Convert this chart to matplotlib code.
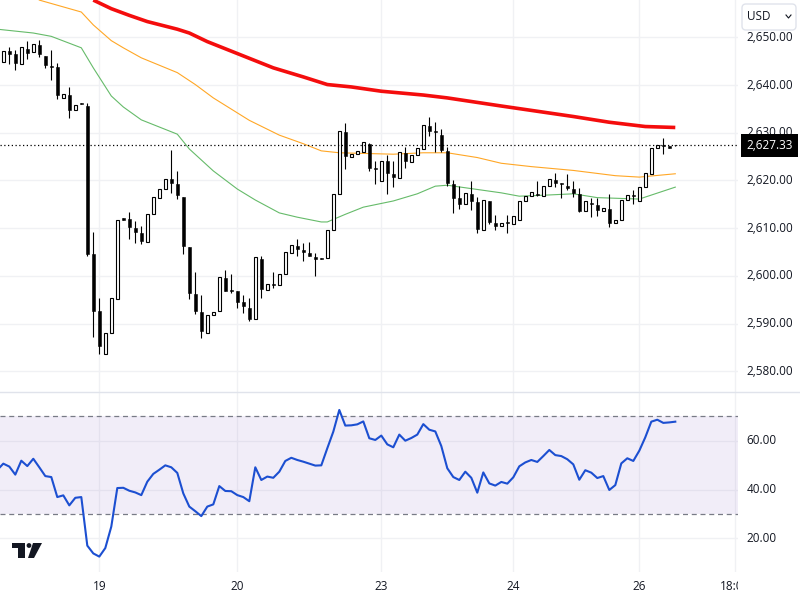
import matplotlib
matplotlib.use('Agg')
import matplotlib.pyplot as plt
from matplotlib.patches import Polygon, Circle, Rectangle, FancyBboxPatch
from matplotlib.lines import Line2D
from matplotlib.transforms import IdentityTransform, ScaledTranslation

plt.rcParams['font.family'] = ['Open Sans', 'DejaVu Sans']

opens = [2644.9,2647.1,2646.4,2644.5,2647.5,2646.9,2648.3,2646.1,2644.0,2643.8,2637.3,2637.9,2634.7,2636.2,2635.7,2604.6,2592.6,2583.6,2588.0,2595.1,
         2612.1,2611.9,2610.0,2609.0,2607.2,2612.9,2616.4,2618.3,2620.3,2619.3,2616.5,2606.0,2596.2,2592.4,2588.1,2591.7,2592.7,2599.5,2597.0,2596.8,
         2594.5,2593.2,2590.9,2603.5,2597.0,2598.3,2598.0,2600.3,2604.7,2606.3,2605.4,2604.8,2604.0,2603.7,2603.7,2609.6,2617.1,2630.1,2625.0,2625.5,
         2626.0,2627.6,2622.6,2619.9,2624.0,2621.3,2620.6,2625.7,2623.9,2625.4,2626.6,2631.4,2630.4,2629.5,2626.1,2619.2,2616.3,2615.0,2617.2,2615.5,
         2609.6,2615.7,2611.1,2610.4,2611.1,2610.9,2611.7,2615.6,2616.7,2617.0,2616.8,2618.8,2620.1,2619.3,2618.8,2618.2,2617.2,2613.7,2615.3,2614.8,
         2613.7,2614.0,2611.0,2611.7,2615.8,2617.0,2615.6,2618.6,2621.4,2626.7,2627.4,2627.2,2627.4]
highs = [2647.2,2648.0,2647.3,2647.9,2649.2,2648.5,2649.4,2646.1,2647.3,2644.6,2638.1,2639.6,2635.9,2636.2,2636.2,2609.2,2595.3,2588.0,2595.3,2611.8,
         2612.1,2613.4,2611.5,2610.5,2612.9,2616.5,2618.3,2620.4,2626.4,2622.0,2616.5,2606.0,2600.8,2596.0,2591.7,2592.5,2599.7,2601.2,2600.4,2596.8,
         2596.0,2595.4,2603.9,2604.2,2598.4,2600.9,2600.3,2604.9,2606.4,2607.7,2606.8,2607.1,2604.7,2603.7,2609.6,2617.1,2630.3,2632.0,2625.5,2626.1,
         2628.0,2627.8,2624.1,2624.0,2625.3,2624.1,2625.9,2627.0,2625.3,2626.7,2631.6,2633.2,2632.2,2630.8,2627.1,2620.1,2618.8,2617.4,2619.9,2616.5,
         2615.8,2615.7,2612.8,2611.1,2612.8,2612.5,2615.6,2616.7,2617.5,2619.9,2618.8,2620.2,2621.6,2619.5,2621.3,2619.9,2618.4,2615.6,2616.3,2616.3,
         2614.2,2617.1,2611.8,2615.8,2616.9,2618.1,2618.6,2621.5,2626.7,2627.4,2629.0,2627.2,2627.4]
lows = [2644.9,2644.5,2643.2,2644.5,2645.5,2646.9,2645.9,2643.6,2641.1,2637.1,2637.3,2633.1,2634.7,2636.1,2604.2,2587.2,2583.7,2583.6,2588.0,2595.1,
        2611.7,2607.8,2606.9,2606.7,2607.2,2612.9,2616.4,2618.3,2617.4,2616.1,2604.5,2595.2,2592.0,2587.0,2588.1,2591.7,2592.7,2596.9,2596.5,2593.3,
        2592.3,2590.6,2590.9,2595.4,2597.0,2597.5,2598.0,2600.3,2604.7,2604.2,2603.2,2604.2,2600.0,2603.6,2603.7,2609.6,2617.1,2622.4,2625.0,2625.5,
        2626.0,2622.0,2619.3,2619.9,2617.2,2618.6,2620.6,2622.6,2623.9,2625.4,2626.6,2629.4,2625.9,2625.9,2618.8,2613.2,2614.1,2615.0,2613.8,2609.0,
        2609.6,2610.9,2609.6,2610.4,2609.0,2610.9,2611.7,2615.6,2616.7,2616.7,2616.8,2618.8,2618.6,2616.4,2618.1,2616.5,2613.4,2613.7,2612.3,2612.5,
        2613.7,2610.2,2611.0,2611.7,2615.8,2615.0,2615.6,2618.6,2621.4,2626.7,2625.5,2626.8,2627.3]
closes = [2647.2,2646.6,2644.7,2647.9,2646.8,2648.5,2646.4,2644.2,2643.8,2638.0,2638.1,2634.8,2635.9,2636.1,2604.6,2592.7,2585.3,2588.0,2595.3,2611.8,
          2611.7,2610.3,2609.2,2607.4,2612.9,2616.5,2618.3,2620.4,2619.5,2617.0,2606.3,2596.5,2592.7,2588.5,2591.7,2592.5,2599.7,2596.9,2596.9,2594.6,
          2593.7,2591.0,2603.9,2597.2,2598.4,2598.1,2600.3,2604.9,2606.4,2605.7,2605.0,2604.2,2603.5,2603.6,2609.6,2617.1,2630.3,2625.2,2625.5,2626.1,
          2628.0,2622.6,2622.3,2624.0,2621.6,2620.7,2625.9,2624.1,2625.3,2626.7,2631.6,2630.4,2630.2,2626.4,2619.5,2616.4,2615.1,2617.4,2615.7,2609.9,
          2615.8,2611.3,2610.4,2611.1,2611.0,2612.5,2615.6,2616.7,2617.5,2616.9,2618.8,2620.2,2619.4,2619.2,2618.4,2617.4,2613.7,2615.6,2615.1,2613.9,
          2614.2,2611.1,2611.8,2615.8,2616.9,2616.7,2618.6,2621.5,2626.7,2627.4,2627.2,2626.8,2627.33]

red_idx = [15,18,21,24,29,31,34,38,41,45,50,54,58,63,70,74,83,89,95,101,105,107,112]
red_ma = [2657.8,2656.0,2654.6,2653.3,2651.7,2650.9,2649.1,2647.1,2645.6,2643.6,2641.7,2640.1,2639.6,2638.7,2637.9,2637.3,2635.6,2634.5,2633.4,2632.2,2631.6,2631.3,2631.1]
orange_idx = [6,13,15,18,20,23,29,32,35,41,46,50,53,56,65,70,74,79,83,88,95,102,106,112]
orange_ma = [2657.8,2655.3,2652.6,2649.3,2647.8,2645.7,2642.6,2640.1,2637.3,2632.6,2629.5,2627.7,2626.2,2625.8,2625.5,2625.8,2625.8,2624.8,2623.6,2622.9,2622.1,2621.0,2620.7,2621.4]
green_idx = [-1,5,8,13,15,18,20,23,26,29,31,35,39,42,46,49,53,54,57,60,65,69,72,74,83,86,90,95,99,106,112]
green_ma = [2651.7,2650.9,2650.2,2647.8,2643.6,2637.7,2635.4,2632.7,2631.2,2629.7,2626.6,2622.0,2618.2,2615.9,2613.2,2612.3,2611.3,2611.3,2612.9,2614.4,2615.7,2617.2,2618.8,2619.0,2617.4,2616.7,2616.9,2617.2,2616.4,2616.1,2618.6]

rsi = [48.0,50.6,49.4,46.1,51.8,49.6,52.6,49.1,45.5,45.1,36.9,37.6,33.5,36.6,36.9,17.0,13.8,12.5,16.0,24.8,40.6,
       40.7,39.5,38.8,37.7,43.2,46.4,48.1,49.9,49.1,46.8,38.4,33.0,31.1,29.1,33.0,33.9,41.4,39.4,39.3,37.7,
       36.9,35.2,49.1,43.9,45.3,44.8,47.3,51.7,53.0,52.1,51.4,50.6,49.8,49.9,56.9,63.7,72.6,66.2,66.3,66.7,
       67.9,61.0,60.3,62.1,58.5,57.3,62.5,60.0,61.1,62.5,66.8,64.5,63.8,57.8,48.7,45.1,43.9,47.3,44.8,38.7,
       47.0,42.5,41.6,43.1,42.4,45.0,49.5,51.1,52.1,51.3,53.7,56.2,54.1,53.7,52.4,50.3,44.0,47.9,46.9,44.7,
       45.5,39.8,41.8,50.7,52.8,51.7,55.9,61.4,67.8,68.6,67.3,67.5,67.8]
rsi_idx = list(range(-1, len(rsi) - 1))

price_ticks = [2580,2590,2600,2610,2620,2630,2640,2650]
rsi_ticks = [20,40,60]
day_idx = [16,39,63,85,106,122]
day_labels = ['19','20','23','24','26','18:00']
last_price = 2627.33

INK = '#131722'
GRID = '#f0f1f4'

fig = plt.figure(figsize=(8,6), dpi=100)
W, H = 800.0, 600.0
screen = IdentityTransform()


def px(x, y):
    # picture pixels (top-left origin) to display coords
    return x, H - y


ax = fig.add_axes([0, (H-391)/H, 738/W, 391/H])
ax2 = fig.add_axes([0, (H-572)/H, 738/W, 181/H])

for a in (ax, ax2):
    a.set_xlim(-0.55, 122.45)
    for s in a.spines.values():
        s.set_visible(False)
    a.set_xticks(day_idx)
    a.yaxis.tick_right()
    a.grid(True, color=GRID, linewidth=1)
    a.set_axisbelow(True)
    a.tick_params(axis='both', length=0, labelcolor=INK, labelsize=8.5)
    a.tick_params(axis='y', pad=6)

ax.set_ylim(2575.87, 2657.82)
ax.set_yticks(price_ticks)
ax.set_yticklabels([f'{p:,.2f}' for p in price_ticks])
ax.tick_params(axis='x', labelbottom=False)

ax.plot(green_idx, green_ma, color='#66bb6a', linewidth=0.8, zorder=2)
ax.plot(orange_idx, orange_ma, color='#ffa726', linewidth=0.8, zorder=2)
ax.plot(red_idx, red_ma, color='#f40d0d', linewidth=2.6, zorder=2, solid_capstyle='butt')

xs = list(range(len(opens)))
ax.vlines(xs, lows, highs, color='black', linewidth=0.8, zorder=3)
for i, o, c in zip(xs, opens, closes):
    if c > o:
        ax.bar(i, c-o, bottom=o, width=0.58, color='white', edgecolor='black', linewidth=0.8, zorder=4)
    else:
        ax.bar(i, max(o-c, 0.2), bottom=c, width=0.58, color='black', edgecolor='black', linewidth=0.4, zorder=4)

ax.axhline(last_price, color='black', linewidth=0.9, linestyle=(0, (1, 2)), zorder=5)
ax.text(746/738, last_price, f'{last_price:,.2f}', transform=ax.get_yaxis_transform(), color='white',
        fontsize=8.5, va='center', ha='left', clip_on=False, zorder=6,
        bbox=dict(boxstyle='square,pad=0.45', facecolor='black', edgecolor='black', linewidth=0))

ax2.set_ylim(6.19, 80.37)
ax2.set_yticks(rsi_ticks)
ax2.set_yticklabels([f'{v:.2f}' for v in rsi_ticks])
ax2.set_xticklabels(day_labels)
ax2.tick_params(axis='x', pad=5.5)
ax2.axhspan(30, 70, color='#7e57c2', alpha=0.1, linewidth=0, zorder=1)
ax2.axhline(70, color='#787b86', linewidth=0.9, linestyle=(0, (4, 3)), zorder=2)
ax2.axhline(30, color='#787b86', linewidth=0.9, linestyle=(0, (4, 3)), zorder=2)
ax2.plot(rsi_idx, rsi, color='#1c4fd1', linewidth=1.5, zorder=3)

# scale labels sit a little above their grid lines
nudge = ScaledTranslation(0, 1.5/100, fig.dpi_scale_trans)
for a in (ax, ax2):
    for lab in a.get_yticklabels():
        lab.set_transform(lab.get_transform() + nudge)

# pane separator
fig.add_artist(Line2D([0, W], [H-391.5]*2, color='#e0e3eb', linewidth=1, transform=screen))

# the time scale label is cut off at the edge of the pane
fig.add_artist(Rectangle(px(738, 600), 62, 28, transform=screen, facecolor='white', edgecolor='none'))

# currency button
fig.add_artist(FancyBboxPatch(px(742, 30), 54, 26, boxstyle='round,pad=0,rounding_size=4',
                              transform=screen, facecolor='white', edgecolor='#e0e3eb', linewidth=1))
fig.text(747/W, 1-16.5/H, 'USD', color=INK, fontsize=8.5, va='center', ha='left')
chev = [px(786, 15), px(788.5, 18), px(791, 15)]
fig.add_artist(Line2D([p[0] for p in chev], [p[1] for p in chev], color=INK, linewidth=0.8, transform=screen))

# logo
logo = [[(12,543),(25,543),(25,558),(18,558),(18,548),(12,548)],
        [(33,543),(42,543),(34,558),(28,558)]]
for pts in logo:
    fig.add_artist(Polygon([px(*p) for p in pts], closed=True, facecolor=INK, edgecolor='none', transform=screen))
fig.add_artist(Circle(px(29, 545.5), 2.4, facecolor=INK, edgecolor='none', transform=screen))

fig.savefig('out.png', dpi=100)
